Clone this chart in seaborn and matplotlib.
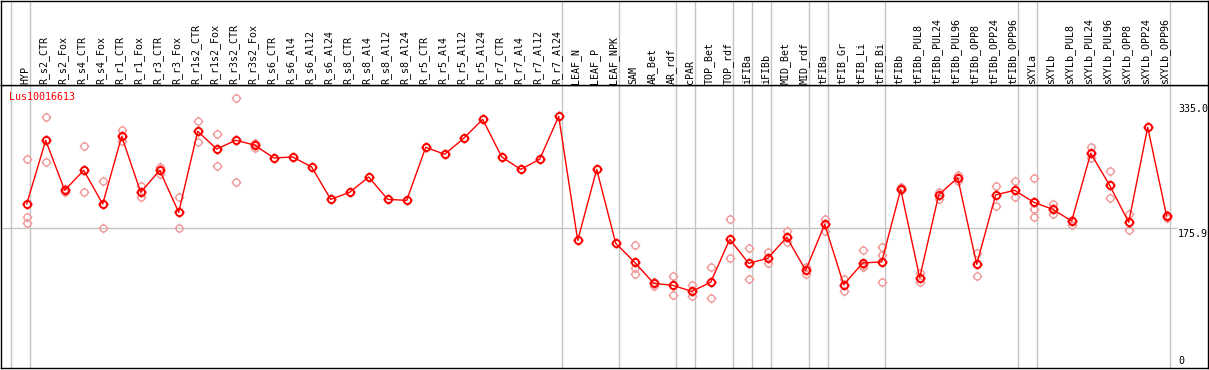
import numpy as np
import pandas as pd
import matplotlib
matplotlib.use("Agg")
import matplotlib.pyplot as plt
import seaborn as sns
from matplotlib.path import Path

# ---------------- data ----------------
categories = [
    "HYP", "R_s2_CTR", "R_s2_Fox", "R_s4_CTR", "R_s4_Fox", "R_r1_CTR", "R_r1_Fox",
    "R_r3_CTR", "R_r3_Fox", "R_r1s2_CTR", "R_r1s2_Fox", "R_r3s2_CTR", "R_r3s2_Fox",
    "R_s6_CTR", "R_s6_Al4", "R_s6_Al12", "R_s6_Al24", "R_s8_CTR", "R_s8_Al4",
    "R_s8_Al12", "R_s8_Al24", "R_r5_CTR", "R_r5_Al4", "R_r5_Al12", "R_r5_Al24",
    "R_r7_CTR", "R_r7_Al4", "R_r7_Al12", "R_r7_Al24", "LEAF_N", "LEAF_P", "LEAF_NPK",
    "SAM", "AR_Bet", "AR_rdf", "cPAR", "TOP_Bet", "TOP_rdf", "iFIBa", "iFIBb",
    "MID_Bet", "MID_rdf", "tFIBa", "tFIB_Gr", "tFIB_Li", "tFIB_Bi", "tFIBb",
    "tFIBb_PUL8", "tFIBb_PUL24", "tFIBb_PUL96", "tFIBb_OPP8", "tFIBb_OPP24",
    "tFIBb_OPP96", "sXYLa", "sXYLb", "sXYLb_PUL8", "sXYLb_PUL24", "sXYLb_PUL96",
    "sXYLb_OPP8", "sXYLb_OPP24", "sXYLb_OPP96",
]

mean_values = [
    206.9, 288.0, 224.3, 249.8, 206.9, 293.1, 221.8, 249.8, 196.3, 299.5, 276.9,
    288.0, 282.0, 265.5, 266.8, 254.0, 212.8, 221.8, 241.3, 212.8, 211.5, 279.1,
    270.2, 290.6, 314.7, 266.8, 251.0, 263.9, 318.5, 160.6, 251.0, 156.8,
    132.6, 105.8, 103.3, 95.6, 107.1, 161.9, 131.3, 137.7, 164.5, 122.4,
    181.0, 104.0, 131.8, 133.1, 225.5, 113.0, 218.6, 240.2, 130.1, 218.6,
    224.3, 209.1, 200.1, 185.2, 271.5, 230.6, 183.6, 304.6, 191.2,
]

replicate_values = [
    [263.8, 190.3, 182.7], [317.3, 260.0], [225.9, 222.1], [280.4, 222.4],
    [236.6, 176.0], [301.3, 287.3], [229.6, 215.6], [254.0, 244.7],
    [216.0, 176.3], [312.2, 286.3], [296.5, 255.0], [341.5, 234.5],
    [284.6, 278.6], [], [], [], [], [], [], [], [], [], [], [], [], [], [], [], [],
    [], [], [],
    [154.3, 125.0, 118.1], [107.9, 102.0], [115.4, 90.7], [103.5, 89.9],
    [126.6, 87.5], [187.3, 137.7], [150.5, 111.4], [145.6, 131.3],
    [172.5, 158.2], [126.2, 118.1], [187.6, 173.1], [111.4, 96.1],
    [147.9, 129.2, 126.2], [152.4, 141.8, 107.6], [228.4, 224.6],
    [118.6, 107.9], [222.8, 213.4], [243.4, 236.3], [144.2, 115.4],
    [229.9, 204.4], [236.3, 215.6], [239.5, 200.1, 189.9], [207.3, 194.6],
    [186.5, 180.6], [280.0, 265.2], [248.3, 214.0], [193.8, 173.4], [],
    [192.9, 188.7],
]

group_last_index = [-1, 0, 28, 31, 34, 35, 37, 38, 39, 41, 42, 45, 52, 53, 60]
y_labels = ["335.0", "175.9", "0"]
y_label_values = [335.0, 175.9, 0.0]
gene_name = "Lus10016613"

# ---------------- frames ----------------
positions = np.arange(len(categories))
main_df = pd.DataFrame({"pos": positions, "value": mean_values})
rep_rows = [(p, v) for p, vals in zip(positions, replicate_values) for v in vals]
rep_df = pd.DataFrame(rep_rows, columns=["pos", "value"])

# ---------------- style ----------------
sns.set_theme(style="white")
plt.rcParams["font.family"] = ["DejaVu Sans Mono", "DejaVu Sans"]
FS = 7.2

circle = Path.unit_circle()
ticks = Path(
    [(0, 1), (0, 1.4), (0, -1), (0, -1.4), (1, 0), (1.4, 0), (-1, 0), (-1.4, 0)],
    [Path.MOVETO, Path.LINETO] * 4,
)
gear = Path.make_compound_path(circle, ticks)

W, H = 1209, 370
fig = plt.figure(figsize=(W / 100, H / 100), dpi=100)
fig.patch.set_facecolor("white")

x_left_px, x_right_px = 1.0, 1208.0
top_px, sep_px, bottom_px = 0.5, 85.0, 368.0
x0_px, dx_px = 26.7, 19.0

ax = fig.add_axes([x_left_px / W, (H - bottom_px) / H,
                   (x_right_px - x_left_px) / W, (bottom_px - sep_px) / H])
axh = fig.add_axes([x_left_px / W, (H - sep_px) / H,
                    (x_right_px - x_left_px) / W, (sep_px - top_px) / H])

xlim = ((x_left_px - x0_px) / dx_px, (x_right_px - x0_px) / dx_px)
k = 0.785
zero_px = 366.4
ylim = ((zero_px - bottom_px) / k, (zero_px - sep_px) / k)

for a in (ax, axh):
    a.set_xlim(*xlim)
    a.set_xticks([])
    a.set_yticks([])
    a.set_facecolor("white")
    for s in a.spines.values():
        s.set_color("black")
        s.set_linewidth(1.0)
ax.set_ylim(*ylim)
axh.set_ylim(sep_px, top_px)
ax.set_xlabel("")
ax.set_ylabel("")

grid_c = "#c4c4c4"
for g in group_last_index:
    xv = g + 0.18
    ax.axvline(xv, color=grid_c, lw=1.0, zorder=1)
    axh.axvline(xv, color=grid_c, lw=1.0, zorder=1)

ax.hlines(175.9, xlim[0], (1177 - x0_px) / dx_px, color=grid_c, lw=1.0, zorder=1)

pale = "#f09a9a"
sns.lineplot(data=rep_df, x="pos", y="value", estimator=None, ax=ax,
             linestyle="none", marker=gear, markersize=7.0,
             markerfacecolor="none", markeredgecolor=pale,
             markeredgewidth=1.0, color=pale, zorder=2, legend=False)

sns.lineplot(data=main_df, x="pos", y="value", estimator=None, ax=ax,
             color="#ff0000", lw=1.0, marker=gear, markersize=7.2,
             markerfacecolor="none", markeredgecolor="#ff0000",
             markeredgewidth=1.4, zorder=3, legend=False)
ax.set_xlabel("")
ax.set_ylabel("")
ax.set_xlim(*xlim)
ax.set_ylim(*ylim)

# category labels in the header
for p, lab in zip(positions, categories):
    axh.text(p - 0.09, 84.0, lab, rotation=90, ha="center", va="bottom",
             fontsize=FS, color="black")

# gene name
ax.text((9.3 - x0_px) / dx_px, (zero_px - 97.3) / k, gene_name, color="#ff0000",
        fontsize=FS, ha="left", va="center")

# right-side value labels
lx = (1178 - x0_px) / dx_px
for lab, val in zip(y_labels, y_label_values):
    va = "bottom" if val == 0 else "top"
    ax.text(lx, val + (0.5 if val == 0 else -1.0), lab, fontsize=FS, color="black",
            ha="left", va=va, clip_on=True)

fig.savefig("out.png", dpi=100)
